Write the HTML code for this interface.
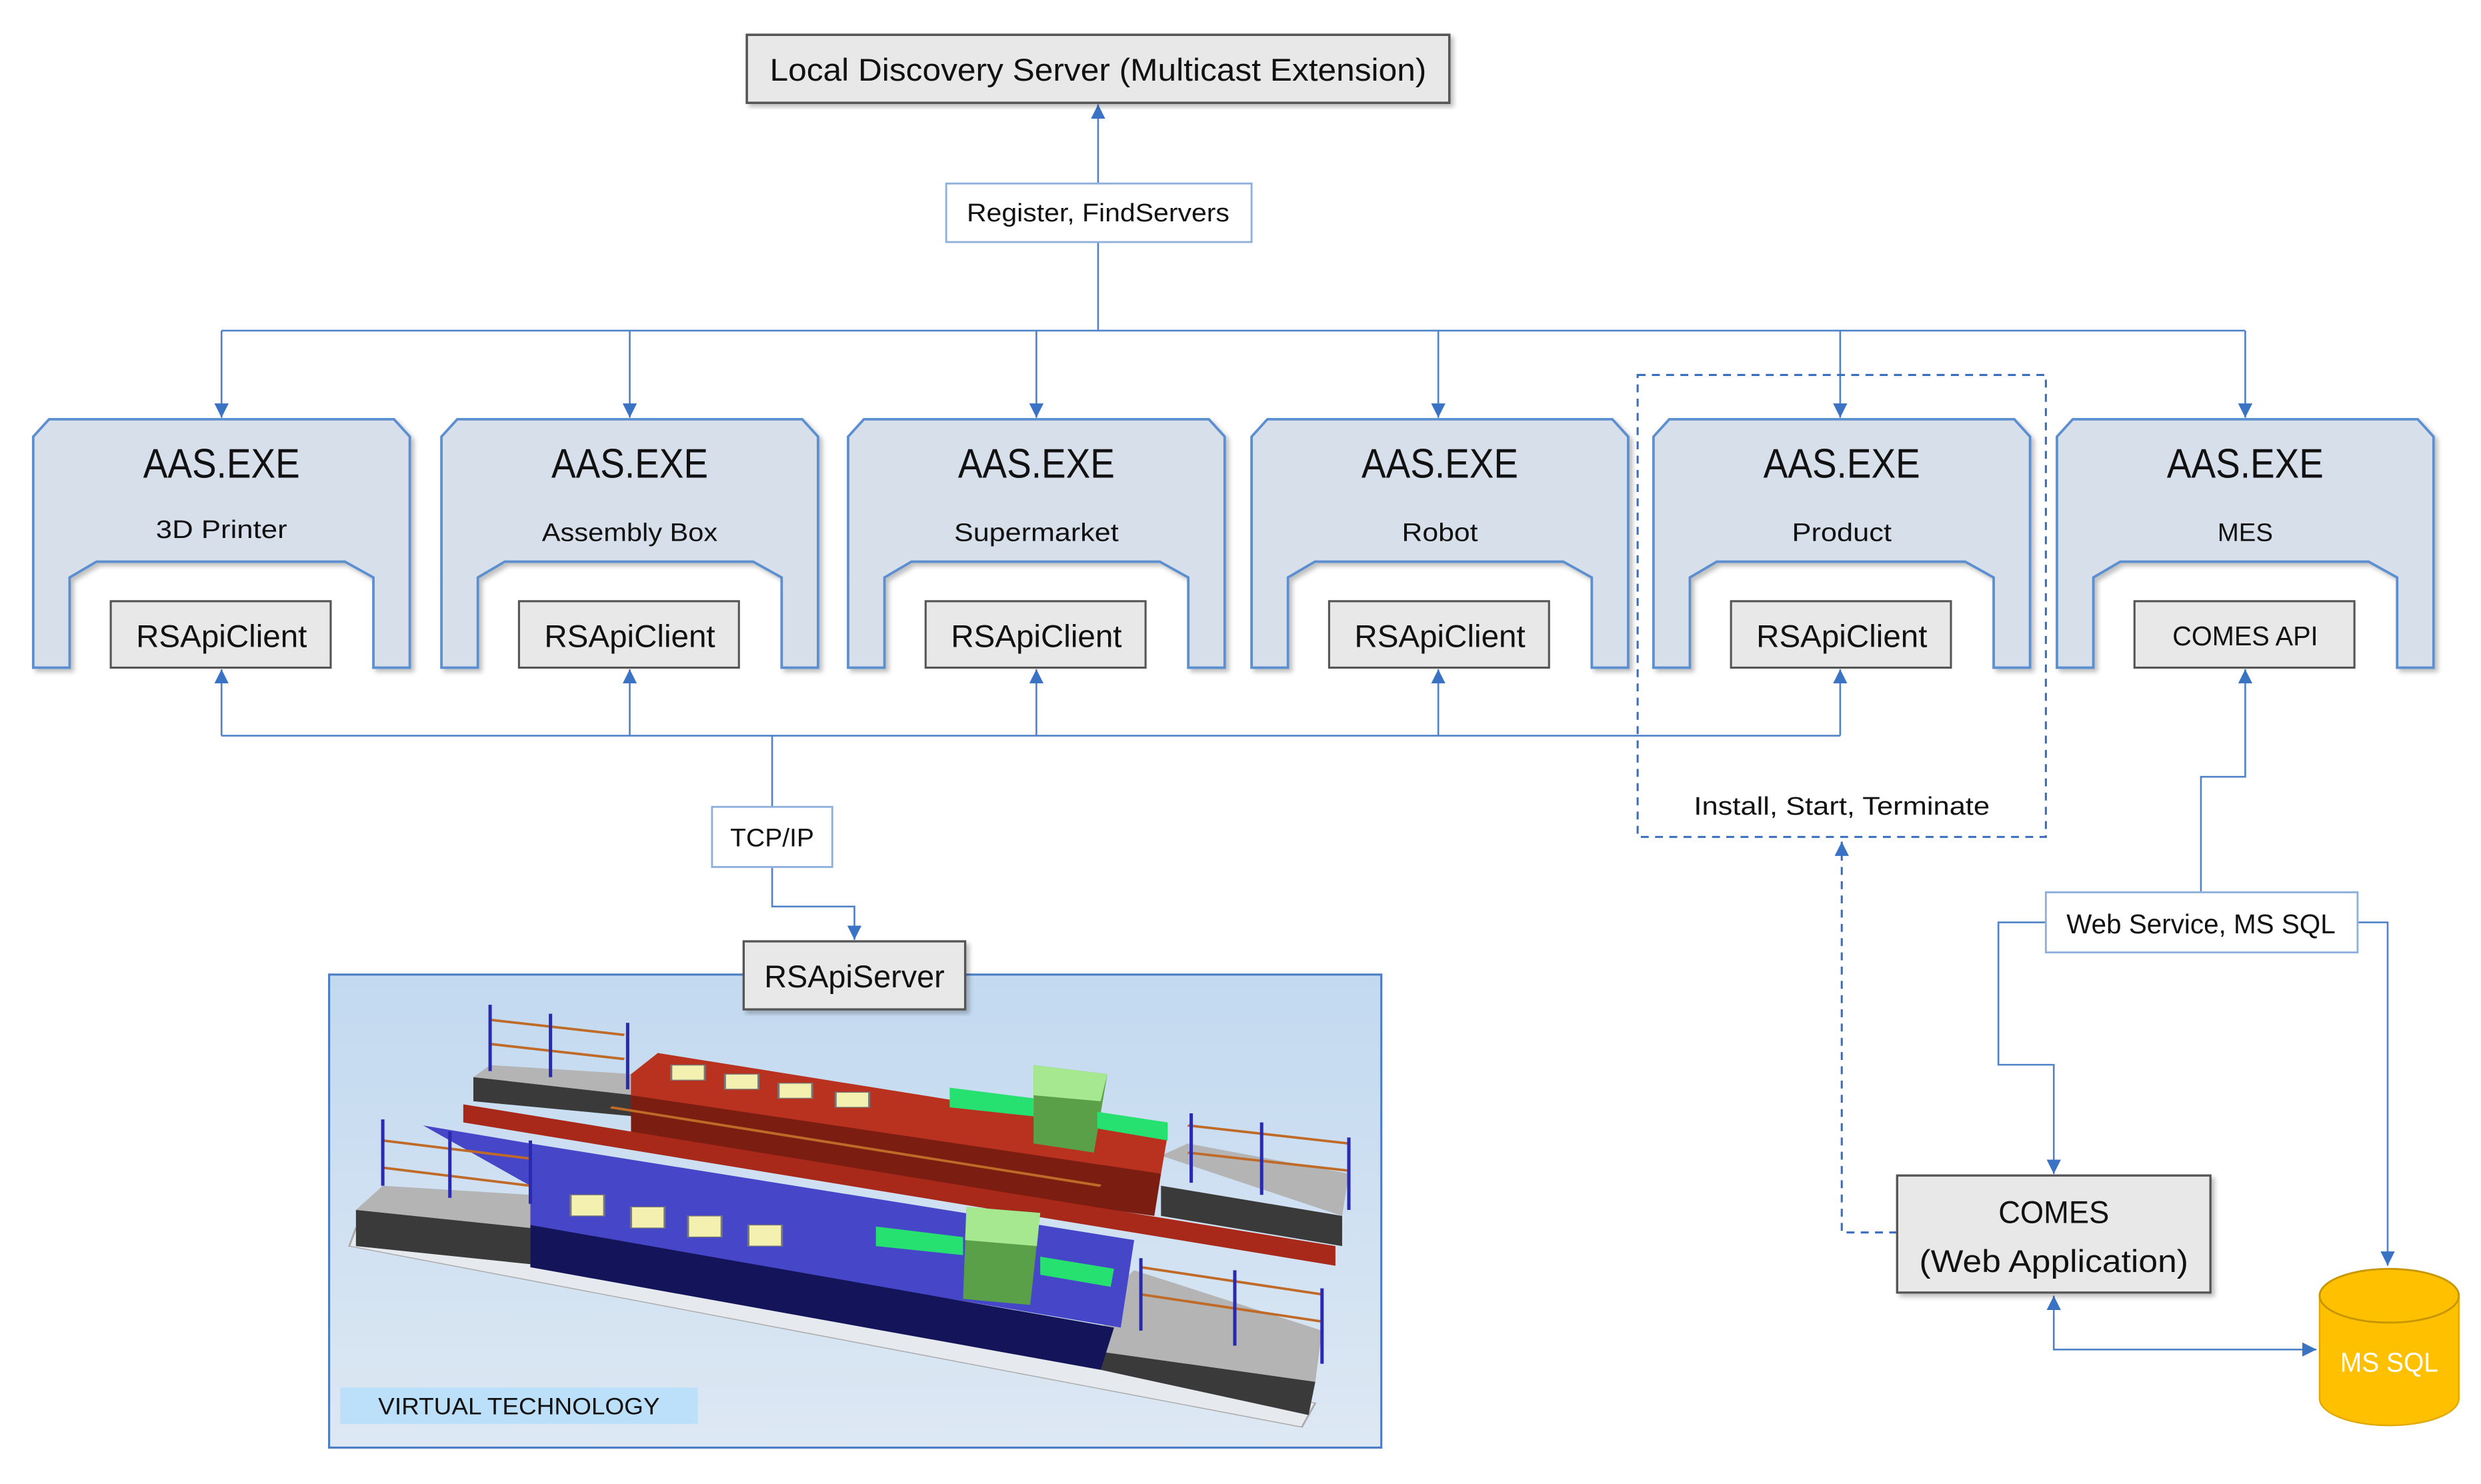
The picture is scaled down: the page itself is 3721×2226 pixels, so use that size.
<!DOCTYPE html>
<html><head><meta charset="utf-8"><style>html,body{margin:0;padding:0;background:#fff}svg{display:block}text{font-family:"Liberation Sans",sans-serif;fill:#111}</style></head>
<body>
<svg width="3721" height="2226" viewBox="0 0 1568 938" preserveAspectRatio="none" xmlns="http://www.w3.org/2000/svg">
<defs>
<marker id="a" viewBox="0 0 10 10" refX="10" refY="5" markerWidth="9" markerHeight="9" markerUnits="userSpaceOnUse" orient="auto"><path d="M0,0 L10,5 L0,10 z" fill="#3a72c4"/></marker>
<linearGradient id="bg" x1="0" y1="0" x2="0" y2="1"><stop offset="0" stop-color="#c2d9f0"/><stop offset="1" stop-color="#dde8f3"/></linearGradient>
<filter id="sh" x="-5%" y="-5%" width="115%" height="115%"><feDropShadow dx="2" dy="2" stdDeviation="1.5" flood-color="#000" flood-opacity="0.25"/></filter>
</defs>
<g fill="none" stroke="#4f82c8" stroke-width="1.1">
<line x1="694" y1="116" x2="694" y2="66" marker-end="url(#a)"/>
<polyline points="694,153 694,209"/>
<line x1="140" y1="209" x2="1419" y2="209"/>
<line x1="140" y1="209" x2="140" y2="264" marker-end="url(#a)"/>
<line x1="398" y1="209" x2="398" y2="264" marker-end="url(#a)"/>
<line x1="655" y1="209" x2="655" y2="264" marker-end="url(#a)"/>
<line x1="909" y1="209" x2="909" y2="264" marker-end="url(#a)"/>
<line x1="1163" y1="209" x2="1163" y2="264" marker-end="url(#a)"/>
<line x1="1419" y1="209" x2="1419" y2="264" marker-end="url(#a)"/>
<line x1="140" y1="465" x2="1163" y2="465"/>
<line x1="140" y1="465" x2="140" y2="423" marker-end="url(#a)"/>
<line x1="398" y1="465" x2="398" y2="423" marker-end="url(#a)"/>
<line x1="655" y1="465" x2="655" y2="423" marker-end="url(#a)"/>
<line x1="909" y1="465" x2="909" y2="423" marker-end="url(#a)"/>
<line x1="1163" y1="465" x2="1163" y2="423" marker-end="url(#a)"/>
<line x1="488" y1="465" x2="488" y2="510"/>
<polyline points="488,548 488,573 540,573 540,594" marker-end="url(#a)"/>
<polyline points="1391,564 1391,491 1419,491 1419,423" marker-end="url(#a)"/>
<polyline points="1293,583 1263,583 1263,673 1298,673 1298,742" marker-end="url(#a)"/>
<polyline points="1490,583 1509,583 1509,800" marker-end="url(#a)"/>
<polyline points="1298,832 1298,853 1464,853" marker-end="url(#a)"/>
<line x1="1298" y1="853" x2="1298" y2="819" marker-end="url(#a)"/>
</g>
<g fill="none" stroke="#3a6fbf" stroke-width="1.3" stroke-dasharray="5,4">
<rect x="1035" y="237" width="258" height="292"/>
<polyline points="1199,779 1164,779 1164,532" marker-end="url(#a)"/>
</g>
<text x="1164" y="515" font-size="16" text-anchor="middle" textLength="187" lengthAdjust="spacingAndGlyphs">Install, Start, Terminate</text>

<rect x="472" y="22" width="444" height="43" fill="#e8e8e8" stroke="#555" stroke-width="1.5" filter="url(#sh)"/>
<text x="694" y="51" font-size="20" text-anchor="middle" textLength="415" lengthAdjust="spacingAndGlyphs">Local Discovery Server (Multicast Extension)</text>
<rect x="598" y="116" width="193" height="37" fill="#fff" stroke="#8fb0dc" stroke-width="1.2"/>
<text x="694" y="140" font-size="16" text-anchor="middle" textLength="166" lengthAdjust="spacingAndGlyphs">Register, FindServers</text>

<g transform="translate(21,0)"><path d="M0,276 L10,265 L228,265 L238,276 L238,422 L215,422 L215,365 L197,355 L40,355 L23,365 L23,422 L0,422 Z" fill="#d6dfea" stroke="#5b8fd0" stroke-width="1.6" filter="url(#sh)"/>
<text x="119" y="302" font-size="26" text-anchor="middle" textLength="99" lengthAdjust="spacingAndGlyphs">AAS.EXE</text>
<text x="119" y="340" font-size="16" text-anchor="middle" textLength="83" lengthAdjust="spacingAndGlyphs">3D Printer</text>
<rect x="49" y="380" width="139" height="42" fill="#e8e8e8" stroke="#555" stroke-width="1.3"/>
<text x="119" y="409" font-size="20" text-anchor="middle" textLength="108" lengthAdjust="spacingAndGlyphs">RSApiClient</text></g>
<g transform="translate(279,0)"><path d="M0,276 L10,265 L228,265 L238,276 L238,422 L215,422 L215,365 L197,355 L40,355 L23,365 L23,422 L0,422 Z" fill="#d6dfea" stroke="#5b8fd0" stroke-width="1.6" filter="url(#sh)"/>
<text x="119" y="302" font-size="26" text-anchor="middle" textLength="99" lengthAdjust="spacingAndGlyphs">AAS.EXE</text>
<text x="119" y="342" font-size="16" text-anchor="middle" textLength="111" lengthAdjust="spacingAndGlyphs">Assembly Box</text>
<rect x="49" y="380" width="139" height="42" fill="#e8e8e8" stroke="#555" stroke-width="1.3"/>
<text x="119" y="409" font-size="20" text-anchor="middle" textLength="108" lengthAdjust="spacingAndGlyphs">RSApiClient</text></g>
<g transform="translate(536,0)"><path d="M0,276 L10,265 L228,265 L238,276 L238,422 L215,422 L215,365 L197,355 L40,355 L23,365 L23,422 L0,422 Z" fill="#d6dfea" stroke="#5b8fd0" stroke-width="1.6" filter="url(#sh)"/>
<text x="119" y="302" font-size="26" text-anchor="middle" textLength="99" lengthAdjust="spacingAndGlyphs">AAS.EXE</text>
<text x="119" y="342" font-size="16" text-anchor="middle" textLength="104" lengthAdjust="spacingAndGlyphs">Supermarket</text>
<rect x="49" y="380" width="139" height="42" fill="#e8e8e8" stroke="#555" stroke-width="1.3"/>
<text x="119" y="409" font-size="20" text-anchor="middle" textLength="108" lengthAdjust="spacingAndGlyphs">RSApiClient</text></g>
<g transform="translate(791,0)"><path d="M0,276 L10,265 L228,265 L238,276 L238,422 L215,422 L215,365 L197,355 L40,355 L23,365 L23,422 L0,422 Z" fill="#d6dfea" stroke="#5b8fd0" stroke-width="1.6" filter="url(#sh)"/>
<text x="119" y="302" font-size="26" text-anchor="middle" textLength="99" lengthAdjust="spacingAndGlyphs">AAS.EXE</text>
<text x="119" y="342" font-size="16" text-anchor="middle" textLength="48" lengthAdjust="spacingAndGlyphs">Robot</text>
<rect x="49" y="380" width="139" height="42" fill="#e8e8e8" stroke="#555" stroke-width="1.3"/>
<text x="119" y="409" font-size="20" text-anchor="middle" textLength="108" lengthAdjust="spacingAndGlyphs">RSApiClient</text></g>
<g transform="translate(1045,0)"><path d="M0,276 L10,265 L228,265 L238,276 L238,422 L215,422 L215,365 L197,355 L40,355 L23,365 L23,422 L0,422 Z" fill="#d6dfea" stroke="#5b8fd0" stroke-width="1.6" filter="url(#sh)"/>
<text x="119" y="302" font-size="26" text-anchor="middle" textLength="99" lengthAdjust="spacingAndGlyphs">AAS.EXE</text>
<text x="119" y="342" font-size="16" text-anchor="middle" textLength="63" lengthAdjust="spacingAndGlyphs">Product</text>
<rect x="49" y="380" width="139" height="42" fill="#e8e8e8" stroke="#555" stroke-width="1.3"/>
<text x="119" y="409" font-size="20" text-anchor="middle" textLength="108" lengthAdjust="spacingAndGlyphs">RSApiClient</text></g>
<g transform="translate(1300,0)"><path d="M0,276 L10,265 L228,265 L238,276 L238,422 L215,422 L215,365 L197,355 L40,355 L23,365 L23,422 L0,422 Z" fill="#d6dfea" stroke="#5b8fd0" stroke-width="1.6" filter="url(#sh)"/>
<text x="119" y="302" font-size="26" text-anchor="middle" textLength="99" lengthAdjust="spacingAndGlyphs">AAS.EXE</text>
<text x="119" y="342" font-size="16" text-anchor="middle" textLength="35" lengthAdjust="spacingAndGlyphs">MES</text>
<rect x="49" y="380" width="139" height="42" fill="#e8e8e8" stroke="#555" stroke-width="1.3"/>
<text x="119" y="408" font-size="17" text-anchor="middle" textLength="92" lengthAdjust="spacingAndGlyphs">COMES API</text></g>

<rect x="450" y="510" width="76" height="38" fill="#fff" stroke="#8fb0dc" stroke-width="1.2"/>
<text x="488" y="535" font-size="16" text-anchor="middle" textLength="53" lengthAdjust="spacingAndGlyphs">TCP/IP</text>

<rect x="208" y="616" width="665" height="299" fill="url(#bg)" stroke="#4a7cc4" stroke-width="1.3"/>
<g transform="translate(208,616) scale(0.424,0.1907)">
<polygon points="30,900 1450,1500 1470,1420 40,840" fill="#e6e9ee" stroke="#aaa" stroke-width="3"/>
<polygon points="40,780 80,700 300,730 300,840" fill="#b4b4b4"/>
<polygon points="40,780 300,840 300,960 40,900" fill="#3a3a3a"/>
<polygon points="215,340 240,300 455,330 455,400" fill="#b4b4b4"/>
<polygon points="215,340 455,400 455,470 215,420" fill="#3a3a3a"/>
<polygon points="1240,600 1280,560 1520,660 1510,800" fill="#b4b4b4"/>
<polygon points="1240,700 1510,800 1510,900 1240,800" fill="#3a3a3a"/>
<polygon points="1160,1060 1200,980 1480,1180 1470,1350 1150,1250" fill="#b4b4b4"/>
<polygon points="1150,1250 1470,1350 1460,1460 1150,1310" fill="#3a3a3a"/>
<polygon points="450,330 490,260 1250,530 1240,660 450,470" fill="#b8321f"/>
<polygon points="450,400 1240,660 1230,800 450,560" fill="#7c1d12"/>
<polygon points="200,430 1500,900 1500,965 200,490" fill="#a8281a"/>
<polygon points="140,500 300,560 1200,880 1180,1170 300,840 300,700" fill="#4646c8"/>
<polygon points="300,830 1170,1170 1150,1310 300,970" fill="#14145a"/>
<polygon points="1050,300 1160,330 1140,590 1050,560" fill="#5aa048"/>
<polygon points="1050,300 1160,330 1150,420 1050,400" fill="#a6e890"/>
<polygon points="950,770 1060,790 1045,1095 945,1075" fill="#5aa048"/>
<polygon points="950,770 1060,790 1055,900 948,880" fill="#a6e890"/>
<polygon points="925,375 1050,410 1050,470 925,440" fill="#26e070"/>
<polygon points="1145,455 1250,490 1250,550 1145,510" fill="#26e070"/>
<polygon points="815,835 945,870 945,930 815,900" fill="#26e070"/>
<polygon points="1060,935 1170,975 1165,1035 1060,995" fill="#26e070"/>
<g fill="#f4f0b0" stroke="#777" stroke-width="3">
<rect x="510" y="300" width="50" height="50"/><rect x="590" y="330" width="50" height="50"/><rect x="670" y="360" width="50" height="50"/><rect x="755" y="390" width="50" height="50"/>
<rect x="360" y="730" width="50" height="70"/><rect x="450" y="770" width="50" height="70"/><rect x="535" y="800" width="50" height="70"/><rect x="625" y="830" width="50" height="70"/>
</g>
<g stroke="#c06a28" stroke-width="8">
<line x1="240" y1="150" x2="440" y2="200"/><line x1="240" y1="230" x2="440" y2="280"/>
<line x1="80" y1="550" x2="300" y2="610"/><line x1="80" y1="640" x2="300" y2="700"/>
<line x1="1280" y1="500" x2="1520" y2="560"/><line x1="1280" y1="590" x2="1520" y2="650"/>
<line x1="1210" y1="970" x2="1480" y2="1060"/><line x1="1210" y1="1060" x2="1480" y2="1150"/>
<line x1="420" y1="440" x2="1150" y2="700"/>
</g>
<g stroke="#2a2ab0" stroke-width="5">
<line x1="240" y1="100" x2="240" y2="320"/><line x1="330" y1="130" x2="330" y2="340"/><line x1="445" y1="160" x2="445" y2="380"/>
<line x1="80" y1="480" x2="80" y2="700"/><line x1="180" y1="520" x2="180" y2="740"/><line x1="300" y1="550" x2="300" y2="760"/>
<line x1="1285" y1="460" x2="1285" y2="690"/><line x1="1390" y1="490" x2="1390" y2="730"/><line x1="1520" y1="540" x2="1520" y2="780"/>
<line x1="1210" y1="940" x2="1210" y2="1180"/><line x1="1350" y1="980" x2="1350" y2="1230"/><line x1="1480" y1="1040" x2="1480" y2="1290"/>
</g>
</g>
<rect x="215" y="877" width="226" height="23" fill="#bde0fa"/>
<text x="328" y="894" font-size="15" text-anchor="middle" textLength="178" lengthAdjust="spacingAndGlyphs">VIRTUAL TECHNOLOGY</text>
<rect x="470" y="595" width="140" height="43" fill="#e8e8e8" stroke="#555" stroke-width="1.4" filter="url(#sh)"/>
<text x="540" y="624" font-size="20" text-anchor="middle" textLength="114" lengthAdjust="spacingAndGlyphs">RSApiServer</text>

<rect x="1293" y="564" width="197" height="38" fill="#fff" stroke="#8fb0dc" stroke-width="1.2"/>
<text x="1391" y="590" font-size="17" text-anchor="middle" textLength="170" lengthAdjust="spacingAndGlyphs">Web Service, MS SQL</text>
<rect x="1199" y="743" width="198" height="74" fill="#e8e8e8" stroke="#555" stroke-width="1.4" filter="url(#sh)"/>
<text x="1298" y="773" font-size="20" text-anchor="middle" textLength="70" lengthAdjust="spacingAndGlyphs">COMES</text>
<text x="1298" y="804" font-size="20" text-anchor="middle" textLength="170" lengthAdjust="spacingAndGlyphs">(Web Application)</text>
<path d="M1466,819 L1466,884 A44,17 0 0 0 1554,884 L1554,819 Z" fill="#ffc000" stroke="#e0a800" stroke-width="1"/>
<ellipse cx="1510" cy="819" rx="44" ry="17" fill="#ffc000" stroke="#c89600" stroke-width="1.2"/>
<text x="1510" y="867" font-size="17" text-anchor="middle" textLength="62" lengthAdjust="spacingAndGlyphs" style="fill:#fff">MS SQL</text>
</svg>
</body></html>
